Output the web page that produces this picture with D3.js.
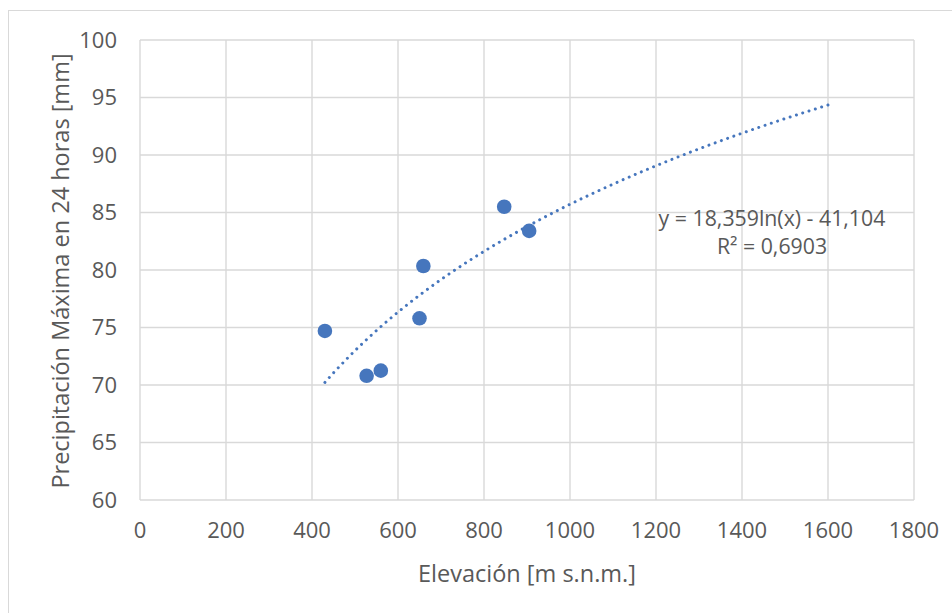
<!DOCTYPE html>
<html>
<head>
<meta charset="utf-8">
<script src="https://cdn.jsdelivr.net/npm/d3@7"></script>
<style>
  body { margin: 0; background: #fff; }
  text { font-family: "Open Sans", sans-serif; fill: #595959; }
</style>
</head>
<body>
<div id="chart"></div>
<script>
// observed stations
var elevation = [430, 527, 560, 650, 659, 847, 905];
var precip = [74.7, 70.8, 71.25, 75.8, 80.35, 85.5, 83.4];

// log trendline as reported in the chart (a, b) and its drawn range
var trendCoef = [18.359, -41.104];
var trendRange = [430, 1600];
var trendLabel = ["y = 18,359ln(x) - 41,104", "R² = 0,6903"];

var xTicks = [0, 200, 400, 600, 800, 1000, 1200, 1400, 1600, 1800];
var yTicks = [60, 65, 70, 75, 80, 85, 90, 95, 100];

var width = 952, height = 613;
var margin = {left: 140, top: 40, right: 38, bottom: 113};
var blue = "#4676bd";

var svg = d3.select("#chart").append("svg")
  .attr("width", width)
  .attr("height", height);

// chart frame
svg.append("rect")
  .attr("x", 8.5).attr("y", 10.5)
  .attr("width", 960).attr("height", 620)
  .attr("fill", "none")
  .attr("stroke", "#d9d9d9")
  .attr("stroke-width", 1);

var xScale = d3.scaleLinear()
  .domain([0, 1800])
  .range([margin.left, width - margin.right]);

var yScale = d3.scaleLinear()
  .domain([60, 100])
  .range([height - margin.bottom, margin.top]);

// gridlines
svg.append("g")
  .selectAll("line")
  .data(xTicks)
  .enter().append("line")
    .attr("x1", function(d) { return xScale(d); })
    .attr("x2", function(d) { return xScale(d); })
    .attr("y1", yScale(60))
    .attr("y2", yScale(100))
    .attr("stroke", "#d9d9d9")
    .attr("stroke-width", 1.4);

svg.append("g")
  .selectAll("line")
  .data(yTicks)
  .enter().append("line")
    .attr("x1", xScale(0))
    .attr("x2", xScale(1800))
    .attr("y1", function(d) { return yScale(d); })
    .attr("y2", function(d) { return yScale(d); })
    .attr("stroke", "#d9d9d9")
    .attr("stroke-width", 1.4);

// tick labels
svg.append("g")
  .selectAll("text")
  .data(xTicks)
  .enter().append("text")
    .attr("x", function(d) { return xScale(d); })
    .attr("y", yScale(60) + 38)
    .attr("text-anchor", "middle")
    .style("font-size", "22px")
    .text(function(d) { return d; });

svg.append("g")
  .selectAll("text")
  .data(yTicks)
  .enter().append("text")
    .attr("x", xScale(0) - 23)
    .attr("y", function(d) { return yScale(d); })
    .attr("dy", "0.35em")
    .attr("text-anchor", "end")
    .style("font-size", "22px")
    .text(function(d) { return d; });

// axis titles
svg.append("text")
  .attr("x", (xScale(0) + xScale(1800)) / 2)
  .attr("y", 582)
  .attr("text-anchor", "middle")
  .style("font-size", "23.5px")
  .text("Elevación [m s.n.m.]");

svg.append("text")
  .attr("transform", "translate(69," + ((yScale(60) + yScale(100)) / 2 + 1) + ") rotate(-90)")
  .attr("text-anchor", "middle")
  .style("font-size", "23.5px")
  .text("Precipitación Máxima en 24 horas [mm]");

// trendline
var trendX = d3.range(trendRange[0], trendRange[1] + 1, 5);
var line = d3.line()
  .x(function(d) { return xScale(d); })
  .y(function(d) { return yScale(trendCoef[0] * Math.log(d) + trendCoef[1]); });

svg.append("path")
  .datum(trendX)
  .attr("d", line)
  .attr("fill", "none")
  .attr("stroke", blue)
  .attr("stroke-width", 3)
  .attr("stroke-linecap", "round")
  .attr("stroke-dasharray", "0.01 6.6");

// points
svg.append("g")
  .selectAll("circle")
  .data(elevation)
  .enter().append("circle")
    .attr("cx", function(d) { return xScale(d); })
    .attr("cy", function(d, i) { return yScale(precip[i]); })
    .attr("r", 7.3)
    .attr("fill", blue);

// equation label
svg.append("g")
  .selectAll("text")
  .data(trendLabel)
  .enter().append("text")
    .attr("x", 772)
    .attr("y", function(d, i) { return 226 + i * 28; })
    .attr("text-anchor", "middle")
    .style("font-size", "21.3px")
    .text(function(d) { return d; });
</script>
</body>
</html>
